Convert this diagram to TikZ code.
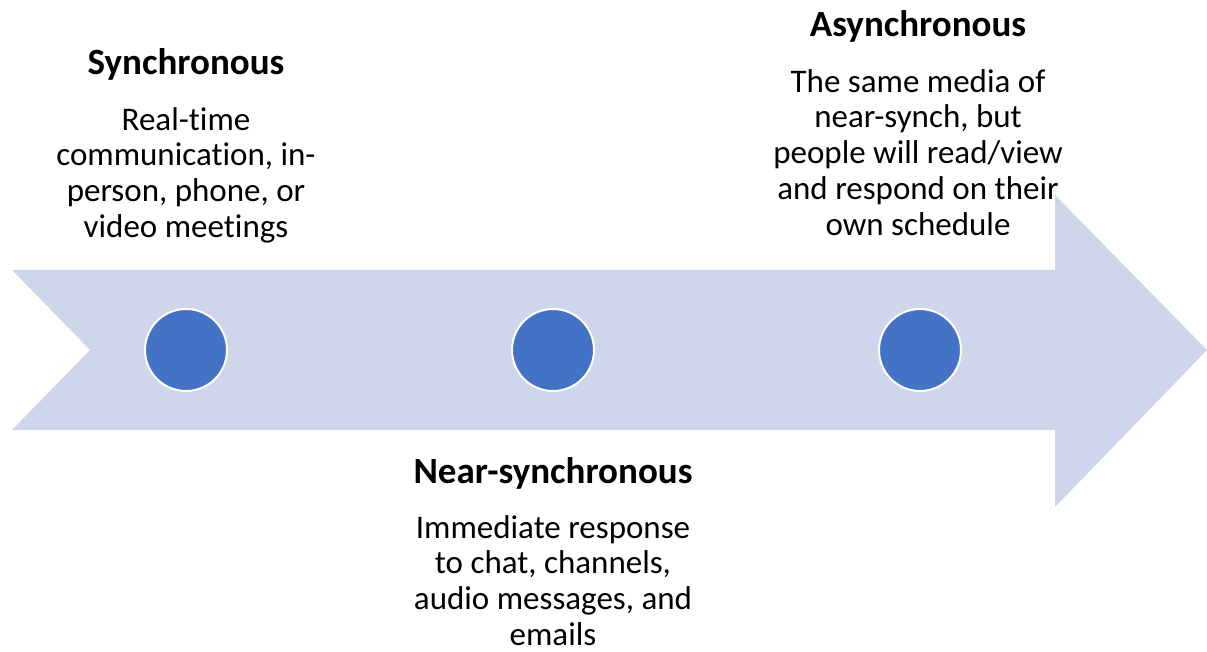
\documentclass[tikz,border=0pt]{standalone}
\usepackage{fontspec}
\setmainfont[Ligatures=NoCommon]{Carlito}
\usetikzlibrary{positioning}

\definecolor{bandblue}{HTML}{CFD5EA}
\definecolor{dotblue}{HTML}{4472C4}

\begin{document}
\begin{tikzpicture}[
        x=1pt, y=-1pt,
        node distance=26pt,
        hnode/.style={font=\bfseries\fontsize{37}{44}\selectfont, inner sep=0pt},
        tnode/.style={font=\fontsize{33}{35.8}\selectfont, align=center, inner sep=0pt},
        dnode/.style={circle, fill=dotblue, draw=white, line width=2pt, minimum size=82pt, inner sep=0pt},
      ]
        \useasboundingbox (0,0) rectangle (1207,652);

        % the band with notched tail and arrow head
        \fill[bandblue] (12,270) -- (1055,270) -- (1055,195) -- (1207,350)
            -- (1055,507) -- (1055,430) -- (12,430) -- (90,350) -- cycle;

        \node[dnode] (dsync)  at (186,350) {};
        \node[dnode] (dnear)  at (553,350) {};
        \node[dnode] (dasync) at (920,350) {};

        \node[hnode, anchor=base] (sync) at (186,75) {Synchronous};
        \node[tnode] (synctxt) [below=of sync] {Real-time\\communication, in-\\person, phone, or\\video meetings};

        \node[hnode, anchor=base] (near) at (553,483) {Near-synchronous};
        \node[tnode] (neartxt) [below=of near] {Immediate response\\to chat, channels,\\audio messages, and\\emails};

        \node[hnode, anchor=base] (async) at (918,37) {Asynchronous};
        \node[tnode] (asynctxt) [below=of async] {The same media of\\near-synch, but\\people will read/view\\and respond on their\\own schedule};
      \end{tikzpicture}
\end{document}
